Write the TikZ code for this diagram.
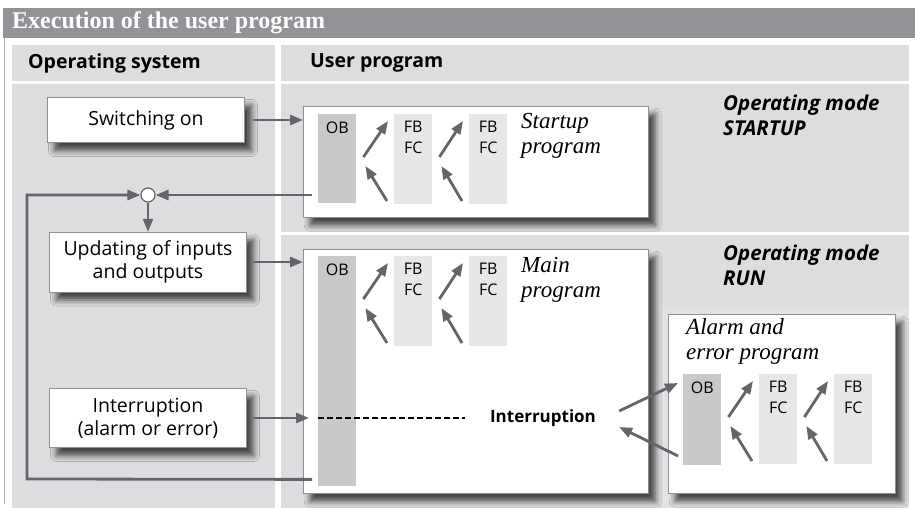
\documentclass[tikz,border=0pt]{standalone}
\usepackage{fontspec}
\setmainfont{Liberation Serif}
\setsansfont{Open Sans}
\usetikzlibrary{calc, arrows.meta, shadows.blur}
\tikzset{>={Triangle[length=13pt,width=10pt]}}
\definecolor{titlegray}{HTML}{929397}
\definecolor{panel}{HTML}{DCDDDF}
\definecolor{panellight}{HTML}{E1E2E4}
\definecolor{obgray}{HTML}{C8C9CB}
\definecolor{fbgray}{HTML}{E6E7E9}
\definecolor{arrowgray}{HTML}{646569}
\definecolor{boxline}{HTML}{8E8F93}
\tikzset{
  softshadow/.style={blur shadow={shadow xshift=7pt, shadow yshift=-8pt, shadow blur radius=6pt, shadow opacity=70}},
  osbox/.style={draw=boxline, fill=white, minimum width=197pt, align=center,
    font=\sffamily\fontsize{19.5}{23}\selectfont, softshadow},
  progbox/.style={draw=boxline, fill=white, anchor=north west, inner sep=0pt, softshadow},
  obcol/.style={fill=obgray, anchor=north west, minimum width=38pt, inner sep=0pt},
  fbcol/.style={fill=fbgray, anchor=north west, minimum width=38pt, minimum height=90pt, inner sep=0pt},
  coltxt/.style={anchor=north, inner sep=0pt, align=center, font=\sffamily\fontsize{16}{21}\selectfont},
  proglbl/.style={anchor=north west, inner sep=0pt, align=left, font=\itshape\fontsize{23}{25}\selectfont},
  modelbl/.style={anchor=north west, inner sep=0pt, align=left, font=\sffamily\bfseries\itshape\fontsize{20.5}{25}\selectfont},
  headtxt/.style={anchor=west, inner sep=0pt, font=\sffamily\bfseries\fontsize{19.5}{22}\selectfont},
  flow/.style={draw=arrowgray, line width=2.8pt, ->},
  dashline/.style={draw=black, line width=2.2pt, dash pattern=on 6pt off 3pt}
}

\begin{document}
\begin{tikzpicture}[x=1pt, y=-1pt]
\useasboundingbox (0,0) rectangle (915,510);
% title bar and panels
\fill[titlegray] (3,8) rectangle (915,38);
\node[anchor=west, inner sep=0pt, text=white, font=\bfseries\fontsize{24}{26}\selectfont] (title) at (12,23) {Execution of the user program};
\draw[boxline!70, line width=1.5pt] (4.5,38) -- (4.5,504);
\fill[panel] (12,45) rectangle (275,81);
\fill[panel] (281,45) rectangle (909,81);
\fill[panel] (12,84) rectangle (275,508);
\fill[panel] (281,84) rectangle (909,232);
\fill[panel] (281,235) rectangle (909,508);
\fill[panellight] (662,307) rectangle (909,508);
\node[headtxt] (oshead) at (28,63) {Operating system};
\node[headtxt] (uphead) at (310,63) {User program};

% operating system boxes
\node[osbox, minimum height=45pt] (switch) at (146,120) {Switching on};
\node[osbox, minimum height=60pt] (upd) at (148,262) {Updating of inputs\\and outputs};
\node[osbox, minimum height=59pt] (intr) at (148,418) {Interruption\\(alarm or error)};
\node[circle, draw=arrowgray, fill=white, line width=1.2pt, minimum size=14pt, inner sep=0pt] (junc) at (148,195) {};

% user program boxes
\node[progbox, minimum width=345pt, minimum height=111pt] (sbox) at (303,106) {};
\node[progbox, minimum width=345pt, minimum height=244pt] (mbox) at (303,249) {};
\node[progbox, minimum width=227pt, minimum height=179pt] (abox) at (668,314) {};

% OB / FB / FC columns with call arrows
\foreach \b/\x/\y/\h in {s/318/114/89, m/318/256/230, a/683/374/91} {
  \node[obcol, minimum height=\h pt] (\b ob) at (\x,\y) {};
  \node[coltxt] at ([yshift=-8pt]\b ob.north) {OB};
  \node[fbcol] (\b fb1) at (\x+76,\y) {};
  \node[fbcol] (\b fb2) at (\x+151,\y) {};
  \node[coltxt] at ([yshift=-7pt]\b fb1.north) {FB\\FC};
  \node[coltxt] at ([yshift=-7pt]\b fb2.north) {FB\\FC};
  \draw[flow] ([shift={(7,43)}]\b ob.north east) -- ([shift={(-6,7)}]\b fb1.north west);
  \draw[flow] ([shift={(-7,87)}]\b fb1.north west) -- ([shift={(9,52)}]\b ob.north east);
  \draw[flow] ([shift={(7,43)}]\b fb1.north east) -- ([shift={(-6,7)}]\b fb2.north west);
  \draw[flow] ([shift={(-7,87)}]\b fb2.north west) -- ([shift={(9,52)}]\b fb1.north east);
}

% labels
\node[proglbl] (slbl) at (521,113) {Startup\\program};
\node[proglbl] (mlbl) at (521,257) {Main\\program};
\node[proglbl] (albl) at (686,318) {Alarm and\\error program};
\node[modelbl] (smode) at (723,95) {Operating mode\\STARTUP};
\node[modelbl] (rmode) at (723,245) {Operating mode\\RUN};
\node[inner sep=0pt, font=\sffamily\bfseries\fontsize{17}{20}\selectfont] (intlbl) at (543,418) {Interruption};

% connectors
\draw[flow, shorten <=8pt] (switch.east) -- (switch.east -| sbox.west);
\draw[flow, shorten <=6pt] (upd.east) -- (upd.east -| mbox.west);
\draw[flow, shorten <=6pt] (intr.east) -- ([xshift=-9pt]mob.west |- intr.east);
\draw[dashline] (mob.west |- intr.east) -- ([xshift=-25pt]intlbl.west);
\draw[flow] ([shift={(23,-7)}]intlbl.east) -- ([shift={(-5,9)}]aob.north west);
\draw[flow] ([shift={(-5,82)}]aob.north west) -- ([shift={(23,9)}]intlbl.east);
\draw[flow] ([xshift=-6pt]sob.west |- junc) -- (junc.east);
\draw[flow] (junc.south) -- (upd.north);
\coordinate (loopstart) at ([shift={(-6,-7)}]mob.south west);
\coordinate (loopcorner) at (27,479);
\draw[flow] (loopstart) -- (loopcorner) |- (junc.west);
\end{tikzpicture}
\end{document}
